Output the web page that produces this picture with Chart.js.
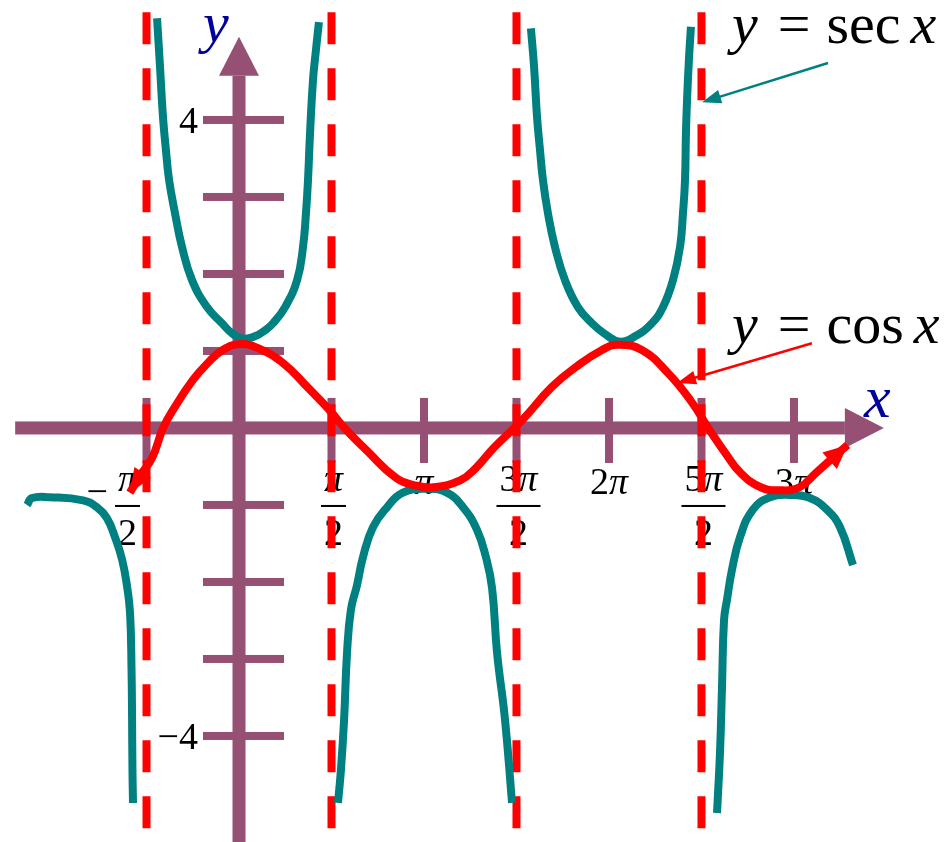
<!DOCTYPE html>
<html>
<head>
<meta charset="utf-8">
<script src="https://cdn.jsdelivr.net/npm/chart.js@4.4.0/dist/chart.umd.min.js"></script>
<style>
  html, body { margin: 0; padding: 0; background: #fff; }
  canvas { display: block; }
</style>
</head>
<body>
<canvas id="myChart" width="949" height="842"></canvas>
<script>
// ***** DATA (x in multiples of pi) *****

// y = cos x
let cosX = [-0.59, -0.535, -0.47, -0.41, -0.35, -0.25, -0.17, -0.09, 0.005, 0.10, 0.24, 0.37, 0.49, 0.57,
  0.69, 0.85, 0.96, 1.05, 1.195, 1.28, 1.38, 1.53, 1.69, 1.82, 1.96, 2.05, 2.18, 2.32, 2.44, 2.55,
  2.63, 2.71, 2.82, 2.92, 3.03, 3.12, 3.195, 3.29];
let cosY = [-0.84, -0.62, -0.39, 0, 0.26, 0.62, 0.84, 1.01, 1.09, 1.04, 0.84, 0.53, 0.23, 0,
  -0.29, -0.65, -0.75, -0.77, -0.68, -0.52, -0.25, 0.10, 0.53, 0.79, 1.01, 1.08, 1.01, 0.71, 0.36, -0.05,
  -0.33, -0.58, -0.77, -0.81, -0.77, -0.58, -0.42, -0.22];

// y = sec x, one pair of arrays per branch
let secLeftX = [-1.146, -1.119, -1.022, -0.843, -0.768, -0.714, -0.67, -0.632, -0.605, -0.589, -0.581, -0.578, -0.576, -0.573];
let secLeftY = [-1.00, -0.91, -0.90, -0.94, -1.03, -1.17, -1.42, -1.71, -2.06, -2.40, -3.14, -3.79, -4.44, -4.87];

let secUp1X = [-0.443, -0.427, -0.411, -0.395, -0.378, -0.346, -0.308, -0.254, -0.173, -0.092, -0.038, 0.022,
  0.086, 0.141, 0.184, 0.249, 0.314, 0.346, 0.362, 0.373, 0.384, 0.40, 0.416, 0.432];
let secUp1Y = [5.32, 4.69, 4.04, 3.61, 3.22, 2.79, 2.35, 1.92, 1.57, 1.36, 1.23, 1.16,
  1.19, 1.27, 1.36, 1.57, 1.92, 2.35, 2.79, 3.22, 3.83, 4.52, 4.91, 5.27];

let secDown1X = [0.535, 0.551, 0.568, 0.584, 0.605, 0.638, 0.67, 0.724, 0.80, 0.886, 1.016,
  1.124, 1.211, 1.286, 1.335, 1.368, 1.395, 1.438, 1.476];
let secDown1Y = [-4.87, -4.44, -3.79, -2.92, -2.36, -2.04, -1.68, -1.29, -1.03, -0.84, -0.79,
  -0.84, -1.03, -1.32, -1.68, -2.08, -2.92, -3.79, -4.87];

let secUp2X = [1.578, 1.595, 1.611, 1.627, 1.643, 1.67, 1.708, 1.762, 1.832, 1.908, 1.978, 2.059,
  2.141, 2.232, 2.292, 2.346, 2.384, 2.40, 2.411, 2.416, 2.422, 2.432, 2.443];
let secUp2Y = [5.19, 4.69, 4.04, 3.61, 3.22, 2.79, 2.35, 1.92, 1.57, 1.36, 1.22, 1.12,
  1.19, 1.36, 1.57, 1.92, 2.35, 2.79, 3.22, 3.83, 4.26, 4.78, 5.21];

let secDown2X = [2.584, 2.60, 2.611, 2.622, 2.638, 2.665, 2.708, 2.778, 2.87, 2.978, 3.086, 3.178, 3.249, 3.319];
let secDown2Y = [-5.00, -4.22, -3.36, -2.49, -2.23, -1.84, -1.42, -1.06, -0.90, -0.87, -0.91, -1.06, -1.29, -1.78];

// asymptotes of sec x
let asymptoteX = [-0.5, 0.5, 1.5, 2.5];

// tick marks and labels
let xTickValues = [-0.5, 0.5, 1, 1.5, 2, 2.5, 3];
let xTickSign = ['−', '', '', '', '', '', ''];
let xTickNum = ['π', 'π', 'π', '3π', '2π', '5π', '3π'];
let xTickDen = ['2', '2', '', '2', '', '2', ''];
let yTickValues = [-4, -3, -2, -1, 1, 2, 3, 4];
let yTickLabels = ['−4', '', '', '', '', '', '', '4'];

// ***** COLOURS *****
const axisColor = '#955073';
const secColor = '#008080';
const cosColor = '#ff0000';
const labelBlue = '#00009b';
const serif = '"Liberation Serif", "Times New Roman", serif';

function toPoints(xs, ys) {
  let pts = [];
  for (let i = 0; i < xs.length; i++) {
    pts.push({ x: xs[i], y: ys[i] });
  }
  return pts;
}

// ***** TEXT HELPERS *****
// segments: [text, italic, gapAfter]
function mathSegments(text) {
  let segs = [];
  for (const ch of text) {
    segs.push([ch, ch === 'π', 0]);
  }
  return segs;
}

function drawSegments(ctx, segs, x, y, size, align) {
  let total = 0;
  for (const s of segs) {
    ctx.font = (s[1] ? 'italic ' : '') + size + 'px ' + serif;
    total += ctx.measureText(s[0]).width + (s[2] || 0);
  }
  let start = x;
  if (align === 'center') start = x - total / 2;
  if (align === 'right') start = x - total;
  ctx.textAlign = 'left';
  ctx.textBaseline = 'alphabetic';
  for (const s of segs) {
    ctx.font = (s[1] ? 'italic ' : '') + size + 'px ' + serif;
    ctx.fillText(s[0], start, y);
    start += ctx.measureText(s[0]).width + (s[2] || 0);
  }
  return total;
}

function arrowHead(ctx, fromX, fromY, tipX, tipY, len, half) {
  let a = Math.atan2(tipY - fromY, tipX - fromX);
  ctx.beginPath();
  ctx.moveTo(tipX, tipY);
  ctx.lineTo(tipX - len * Math.cos(a) + half * Math.sin(a), tipY - len * Math.sin(a) - half * Math.cos(a));
  ctx.lineTo(tipX - len * Math.cos(a) - half * Math.sin(a), tipY - len * Math.sin(a) + half * Math.cos(a));
  ctx.closePath();
  ctx.fill();
}

// ***** AXES PLUGIN *****
const axesPlugin = {
  id: 'handAxes',
  beforeDatasetsDraw(chart) {
    const ctx = chart.ctx;
    const sx = chart.scales.x;
    const sy = chart.scales.y;
    const x0 = sx.getPixelForValue(0);
    const y0 = sy.getPixelForValue(0);
    ctx.save();

    // tick labels
    ctx.fillStyle = '#000';
    for (let i = 0; i < xTickValues.length; i++) {
      let cx = sx.getPixelForValue(xTickValues[i]);
      if (xTickDen[i]) {
        let shift = xTickSign[i] ? -19 : 2;
        let fx = cx + shift;
        let w = drawSegments(ctx, mathSegments(xTickNum[i]), fx, y0 + 63, 38, 'center');
        ctx.fillRect(fx - w / 2 - 3, y0 + 77, w + 6, 2);
        drawSegments(ctx, mathSegments(xTickDen[i]), fx, y0 + 117, 38, 'center');
        if (xTickSign[i]) {
          drawSegments(ctx, mathSegments(xTickSign[i]), fx - w / 2 - 10, y0 + 76, 38, 'right');
        }
      } else {
        drawSegments(ctx, mathSegments(xTickNum[i]), cx, y0 + 66, 38, 'center');
      }
    }
    for (let i = 0; i < yTickValues.length; i++) {
      if (yTickLabels[i]) {
        drawSegments(ctx, mathSegments(yTickLabels[i]), x0 - 41, sy.getPixelForValue(yTickValues[i]) + 13, 38, 'right');
      }
    }

    ctx.fillStyle = axisColor;
    // x axis with arrow
    const xLeft = sx.getPixelForValue(-1.21);
    const xTip = sx.getPixelForValue(3.486);
    ctx.fillRect(xLeft, y0 - 6.5, xTip - 39 - xLeft, 13);
    ctx.beginPath();
    ctx.moveTo(xTip - 39, y0 - 20);
    ctx.lineTo(xTip, y0);
    ctx.lineTo(xTip - 39, y0 + 20);
    ctx.closePath();
    ctx.fill();
    // y axis with arrow
    const yTip = sy.getPixelForValue(5.08);
    const yBottom = sy.getPixelForValue(sy.min);
    ctx.fillRect(x0 - 6.5, yTip + 39, 13, yBottom - yTip - 39);
    ctx.beginPath();
    ctx.moveTo(x0 - 20, yTip + 39);
    ctx.lineTo(x0, yTip);
    ctx.lineTo(x0 + 20, yTip + 39);
    ctx.closePath();
    ctx.fill();

    // tick marks
    for (const v of xTickValues) {
      ctx.fillRect(sx.getPixelForValue(v) - 4, y0 - 30, 8, 65);
    }
    for (const v of yTickValues) {
      ctx.fillRect(x0 - 36, sy.getPixelForValue(v) - 4, 81, 8);
    }

    // axis names
    ctx.fillStyle = labelBlue;
    drawSegments(ctx, [['y', true, 0]], x0 - 36, yTip + 5, 58, 'left');
    drawSegments(ctx, [['x', true, 0]], xTip - 20, y0 - 11, 60, 'left');
    ctx.restore();
  },
  afterDatasetsDraw(chart) {
    const ctx = chart.ctx;
    const sx = chart.scales.x;
    const sy = chart.scales.y;
    const pts = chart.getDatasetMeta(0).data;
    ctx.save();

    // arrowheads at both ends of cos curve
    ctx.fillStyle = cosColor;
    arrowHead(ctx, pts[2].x, pts[2].y, pts[0].x, pts[0].y, 24, 10);
    let n = pts.length;
    arrowHead(ctx, pts[n - 3].x, pts[n - 3].y, pts[n - 1].x, pts[n - 1].y, 24, 11);

    // function name labels with pointers
    ctx.fillStyle = '#000';
    const textX = sx.getPixelForValue(2.665);
    drawSegments(ctx, [['y', true, 20], ['=', false, 16], ['sec', false, 10], ['x', true, 0]], textX, sy.getPixelForValue(5.0), 58, 'left');
    drawSegments(ctx, [['y', true, 20], ['=', false, 16], ['cos', false, 10], ['x', true, 0]], textX, sy.getPixelForValue(1.10), 58, 'left');

    function pointer(color, tx, ty, hx, hy) {
      let ax = sx.getPixelForValue(tx), ay = sy.getPixelForValue(ty);
      let bx = sx.getPixelForValue(hx), by = sy.getPixelForValue(hy);
      ctx.strokeStyle = color;
      ctx.fillStyle = color;
      ctx.lineWidth = 2.5;
      ctx.beginPath();
      ctx.moveTo(ax, ay);
      ctx.lineTo(bx + (ax - bx) * 0.1, by + (ay - by) * 0.1);
      ctx.stroke();
      arrowHead(ctx, ax, ay, bx, by, 19, 7);
    }
    pointer(secColor, 3.184, 4.74, 2.503, 4.23);
    pointer(cosColor, 3.097, 1.10, 2.368, 0.584);
    ctx.restore();
  }
};

// ***** DATASETS *****
function curve(xs, ys, color) {
  return {
    data: toPoints(xs, ys),
    showLine: true,
    borderColor: color,
    borderWidth: 8,
    borderJoinStyle: 'round',
    pointRadius: 0,
    tension: 0.45,
    fill: false,
    clip: false,
    order: 0
  };
}

let datasets = [curve(cosX, cosY, cosColor)];
datasets.push(curve(secLeftX, secLeftY, secColor));
datasets.push(curve(secUp1X, secUp1Y, secColor));
datasets.push(curve(secDown1X, secDown1Y, secColor));
datasets.push(curve(secUp2X, secUp2Y, secColor));
datasets.push(curve(secDown2X, secDown2Y, secColor));

for (const a of asymptoteX) {
  datasets.push({
    data: [{ x: a, y: 5.4 }, { x: a, y: -5.22 }],
    showLine: true,
    borderColor: cosColor,
    borderWidth: 8,
    borderDash: [32, 24],
    pointRadius: 0,
    tension: 0,
    clip: false,
    order: 1
  });
}

const ctx = document.getElementById('myChart').getContext('2d');
new Chart(ctx, {
  type: 'scatter',
  data: { datasets: datasets },
  options: {
    responsive: false,
    animation: false,
    events: [],
    layout: { padding: 0 },
    plugins: { legend: { display: false }, tooltip: { enabled: false } },
    scales: {
      x: { type: 'linear', min: -1.292, max: 3.838, display: false },
      y: { type: 'linear', min: -5.377, max: 5.558, display: false }
    }
  },
  plugins: [axesPlugin]
});
</script>
</body>
</html>
